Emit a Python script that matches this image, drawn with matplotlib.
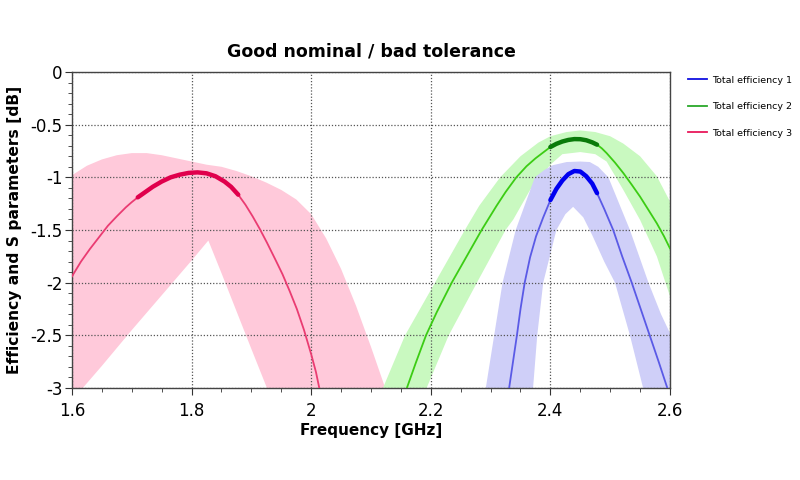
import numpy as np
import matplotlib
matplotlib.use('Agg')
import matplotlib.pyplot as plt
from matplotlib.ticker import MultipleLocator, FormatStrFormatter

matplotlib.rcParams['font.family'] = ['DejaVu Sans']
matplotlib.rcParams['axes.unicode_minus'] = False

# nominal curves (frequency GHz, dB)
f3 = [1.60, 1.615, 1.63, 1.645, 1.66, 1.675, 1.69, 1.70, 1.71, 1.72, 1.735, 1.75, 1.765,
      1.78, 1.795, 1.81, 1.825, 1.84, 1.855, 1.866, 1.878, 1.89, 1.902, 1.914, 1.926,
      1.94, 1.952, 1.964, 1.976, 1.988, 2.0, 2.008, 2.0135]
eff3 = [-1.94, -1.80, -1.68, -1.57, -1.46, -1.37, -1.285, -1.235, -1.19, -1.15, -1.09, -1.04, -1.0,
        -0.975, -0.958, -0.953, -0.962, -0.99, -1.04, -1.09, -1.165, -1.26, -1.37, -1.49, -1.62,
        -1.78, -1.92, -2.08, -2.25, -2.45, -2.68, -2.85, -3.00]

f2 = [2.16, 2.175, 2.192, 2.21, 2.235, 2.26, 2.285, 2.31, 2.325, 2.343, 2.36, 2.375,
      2.39, 2.40, 2.41, 2.42, 2.43, 2.44, 2.45, 2.46, 2.47, 2.478, 2.486, 2.494,
      2.508, 2.522, 2.536, 2.55, 2.564, 2.578, 2.59, 2.60]
eff2 = [-3.00, -2.76, -2.50, -2.28, -2.00, -1.75, -1.50, -1.27, -1.14, -1.00, -0.895, -0.82,
        -0.755, -0.712, -0.682, -0.66, -0.645, -0.637, -0.638, -0.648, -0.668, -0.69, -0.725, -0.77,
        -0.86, -0.96, -1.07, -1.184, -1.31, -1.437, -1.56, -1.675]

f1 = [2.331, 2.3375, 2.344, 2.350, 2.357, 2.366, 2.376, 2.388, 2.40, 2.41, 2.42, 2.43,
      2.44, 2.45, 2.46, 2.47, 2.478, 2.49, 2.505, 2.52, 2.536, 2.551, 2.566, 2.581, 2.5955]
eff1 = [-3.00, -2.75, -2.50, -2.25, -2.00, -1.76, -1.56, -1.38, -1.216, -1.11, -1.03, -0.97,
        -0.94, -0.945, -0.99, -1.06, -1.15, -1.30, -1.50, -1.75, -2.00, -2.25, -2.50, -2.75, -3.00]

# frequency range where the nominal curve is drawn bold
band3 = (1.71, 1.878)
band2 = (2.40, 2.478)
band1 = (2.40, 2.478)

# tolerance envelopes: outer (upper) and inner (lower) edge of the spread of curves
tol3_up_f = [1.60, 1.625, 1.65, 1.675, 1.70, 1.725, 1.75, 1.775, 1.80, 1.825, 1.85, 1.875,
             1.90, 1.925, 1.95, 1.975, 2.00, 2.025, 2.05, 2.075, 2.10, 2.125]
tol3_up = [-0.98, -0.89, -0.83, -0.79, -0.77, -0.77, -0.79, -0.82, -0.85, -0.88, -0.90, -0.94,
           -0.99, -1.05, -1.12, -1.21, -1.35, -1.58, -1.87, -2.22, -2.61, -3.02]
tol3_lo_f = [1.60, 1.618, 1.65, 1.70, 1.75, 1.80, 1.828, 1.85, 1.875, 1.90, 1.926]
tol3_lo = [-3.00, -3.00, -2.79, -2.45, -2.12, -1.79, -1.60, -1.91, -2.27, -2.63, -3.00]

tol2_up_f = [2.12, 2.157, 2.207, 2.257, 2.281, 2.316, 2.35, 2.38, 2.40, 2.427, 2.45, 2.475,
             2.50, 2.522, 2.55, 2.578, 2.60]
tol2_up = [-3.00, -2.50, -2.00, -1.50, -1.27, -1.00, -0.80, -0.67, -0.61, -0.57, -0.555, -0.57,
           -0.61, -0.68, -0.80, -0.99, -1.23]
tol2_lo_f = [2.193, 2.23, 2.28, 2.325, 2.338, 2.366, 2.40, 2.42, 2.45, 2.475, 2.494, 2.522,
             2.55, 2.578, 2.60]
tol2_lo = [-3.00, -2.50, -1.97, -1.50, -1.40, -1.12, -0.88, -0.78, -0.76, -0.78, -0.85, -1.12,
           -1.405, -1.75, -2.13]

tol1_up_f = [2.292, 2.306, 2.320, 2.342, 2.374, 2.39, 2.404, 2.427, 2.45, 2.466, 2.48, 2.497,
             2.515, 2.533, 2.564, 2.585, 2.60]
tol1_up = [-3.00, -2.50, -2.00, -1.50, -1.00, -0.93, -0.885, -0.855, -0.85, -0.855, -0.90, -1.00,
           -1.25, -1.50, -2.00, -2.30, -2.48]
tol1_lo_f = [2.371, 2.378, 2.388, 2.41, 2.425, 2.438, 2.455, 2.47, 2.49, 2.508, 2.533, 2.555, 2.60]
tol1_lo = [-3.00, -2.50, -2.00, -1.50, -1.35, -1.28, -1.38, -1.55, -1.80, -2.00, -2.50, -3.00, -3.60]

labels = ['Total efficiency 1', 'Total efficiency 2', 'Total efficiency 3']


def tol_polygon(fu, yu, fl, yl):
    xs = list(fu) + list(fl)[::-1]
    ys = list(yu) + list(yl)[::-1]
    return xs, ys


fig = plt.figure(figsize=(8, 4.8), dpi=100)
ax = fig.add_axes([0.09, 0.1917, 0.7475, 0.6583])

# tolerance spreads
xs, ys = tol_polygon(tol3_up_f, tol3_up, tol3_lo_f, tol3_lo)
ax.fill(xs, ys, color='#ffc9da', lw=0, zorder=1)
xs, ys = tol_polygon(tol2_up_f, tol2_up, tol2_lo_f, tol2_lo)
ax.fill(xs, ys, color='#c9f9c0', lw=0, zorder=1)
xs, ys = tol_polygon(tol1_up_f, tol1_up, tol1_lo_f, tol1_lo)
ax.fill(xs, ys, color='#cfcff8', lw=0, zorder=1.1)

# nominal curves
ax.plot(f1, eff1, color='#5a5ae6', lw=1.3, zorder=3)
ax.plot(f2, eff2, color='#3ccc14', lw=1.3, zorder=3)
ax.plot(f3, eff3, color='#ea3c72', lw=1.3, zorder=3)

# bold part inside the operating band
for f, e, b, c in [(f1, eff1, band1, '#0000f0'), (f2, eff2, band2, '#0a7a0a'),
                   (f3, eff3, band3, '#e0004c')]:
    f = np.array(f)
    e = np.array(e)
    m = (f >= b[0] - 1e-9) & (f <= b[1] + 1e-9)
    ax.plot(f[m], e[m], color=c, lw=3.2, solid_capstyle='round', zorder=4)

ax.set_xlim(1.6, 2.6)
ax.set_ylim(-3, 0)
ax.xaxis.set_major_locator(MultipleLocator(0.2))
ax.xaxis.set_minor_locator(MultipleLocator(0.05))
ax.yaxis.set_major_locator(MultipleLocator(0.5))
ax.yaxis.set_minor_locator(MultipleLocator(0.1))
ax.xaxis.set_major_formatter(FormatStrFormatter('%g'))
ax.yaxis.set_major_formatter(FormatStrFormatter('%g'))
ax.tick_params(which='major', direction='out', length=5, labelsize=12, color='#333333')
ax.tick_params(which='minor', direction='out', length=3, color='#333333')
ax.tick_params(axis='x', pad=5)
ax.tick_params(axis='y', pad=2)
ax.grid(True, which='major', color='#555555', linestyle=(0, (1, 1.5)), lw=0.9, zorder=0)
for s in ax.spines.values():
    s.set_color('#444444')
    s.set_linewidth(1.0)

ax.set_title('Good nominal / bad tolerance', fontsize=12.5, fontweight='bold', pad=11)
ax.set_xlabel('Frequency [GHz]', fontsize=11, fontweight='bold', labelpad=2)
ax.set_ylabel('Efficiency and S parameters [dB]', fontsize=11.2, fontweight='bold', labelpad=6)

handles = [plt.Line2D([], [], color='#1010e0', lw=1.3),
           plt.Line2D([], [], color='#2aa82a', lw=1.3),
           plt.Line2D([], [], color='#e8185a', lw=1.3)]
fig.legend(handles, labels, loc='upper left', bbox_to_anchor=(0.849, 0.86), frameon=False,
           fontsize=6.8, handlelength=2.0, handletextpad=0.6, labelspacing=1.85)

plt.savefig('out.png', dpi=100)
